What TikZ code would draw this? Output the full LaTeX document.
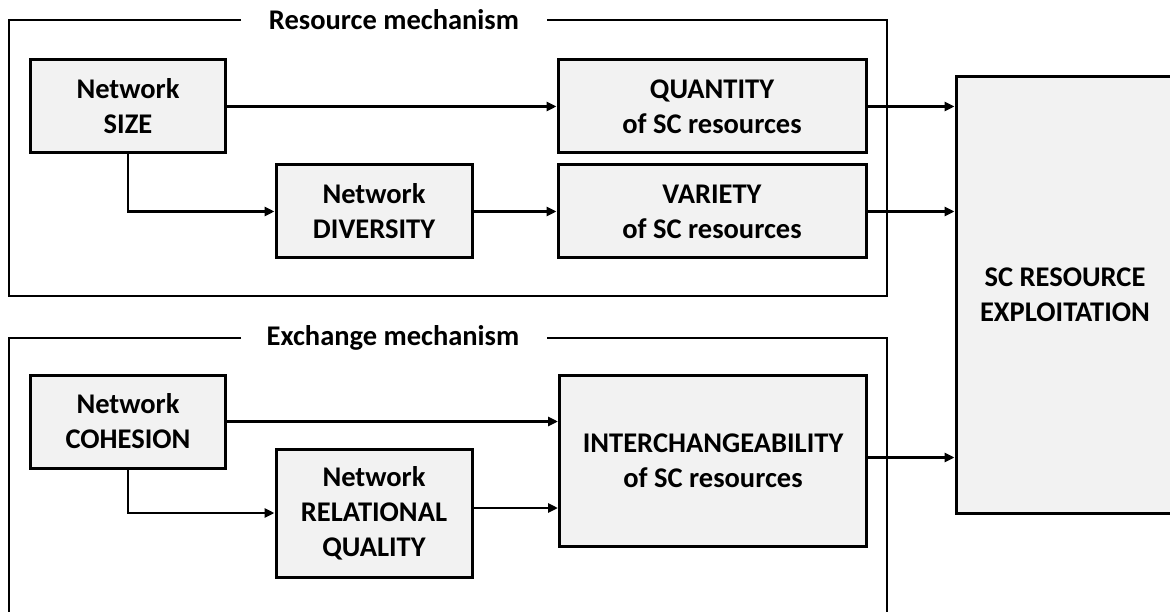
\documentclass[tikz,border=0pt]{standalone}
\usepackage{fontspec}
\setmainfont{Carlito}
\usetikzlibrary{arrows.meta}
\definecolor{boxfill}{HTML}{F2F2F2}
\tikzset{
  box/.style={draw=black, line width=3pt, fill=boxfill, rectangle, inner sep=0pt,
    align=center, font=\fontsize{28.5}{35}\selectfont\bfseries},
  frame/.style={draw=black, line width=1.3pt},
  ttl/.style={inner sep=0pt, font=\fontsize{28.5}{35}\selectfont\bfseries},
  arr/.style={line width=2.8pt, -{Triangle[length=10pt,width=9pt]}},
}
\begin{document}
\begin{tikzpicture}[x=1pt,y=-1pt]
\useasboundingbox (0,0) rectangle (1170,612);
% frames
\draw[frame] (241,20) -- (9,20) -- (9,296) -- (887,296) -- (887,20) -- (547,20);
\node[ttl] (t1) at (394,20) {Resource mechanism};
\draw[frame] (241,338) -- (9,338) -- (9,625);
\draw[frame] (547,338) -- (887,338) -- (887,625);
\node[ttl] (t2) at (393,338) {Exchange mechanism};
% boxes
\node[box, minimum width=195pt, minimum height=93pt] (size) at (128,106.5) {Network\\SIZE};
\node[box, minimum width=308pt, minimum height=93pt] (qty) at (712,106.5) {QUANTITY\\of SC resources};
\node[box, minimum width=196pt, minimum height=93pt] (div) at (374,211.5) {Network\\DIVERSITY};
\node[box, minimum width=308pt, minimum height=93pt] (var) at (712,211.5) {VARIETY\\of SC resources};
\node[box, minimum width=195pt, minimum height=93pt] (coh) at (128,421.5) {Network\\COHESION};
\node[box, minimum width=196pt, minimum height=128pt] (rq) at (374,513) {Network\\RELATIONAL\\QUALITY};
\node[box, minimum width=307pt, minimum height=171pt] (inter) at (713,460.5) {INTERCHANGEABILITY\\of SC resources};
\node[box, minimum width=218pt, minimum height=436pt] (sc) at (1065,295) {SC RESOURCE\\EXPLOITATION};
% connectors
\draw[arr] (size.east) -- (size.east -| qty.west);
\draw[arr] (size.south) |- (div.west);
\draw[arr] (div.east) -- (div.east -| var.west);
\draw[arr] (qty.east) -- (qty.east -| sc.west);
\draw[arr] (var.east) -- (var.east -| sc.west);
\draw[arr] (coh.east) -- (coh.east -| inter.west);
\draw[arr] (coh.south) |- (rq.west);
\draw[arr] ([yshift=5pt]rq.east) -- ([yshift=5pt]rq.east -| inter.west);
\draw[arr] ([yshift=3pt]inter.east) -- ([yshift=3pt]inter.east -| sc.west);
\end{tikzpicture}
\end{document}
